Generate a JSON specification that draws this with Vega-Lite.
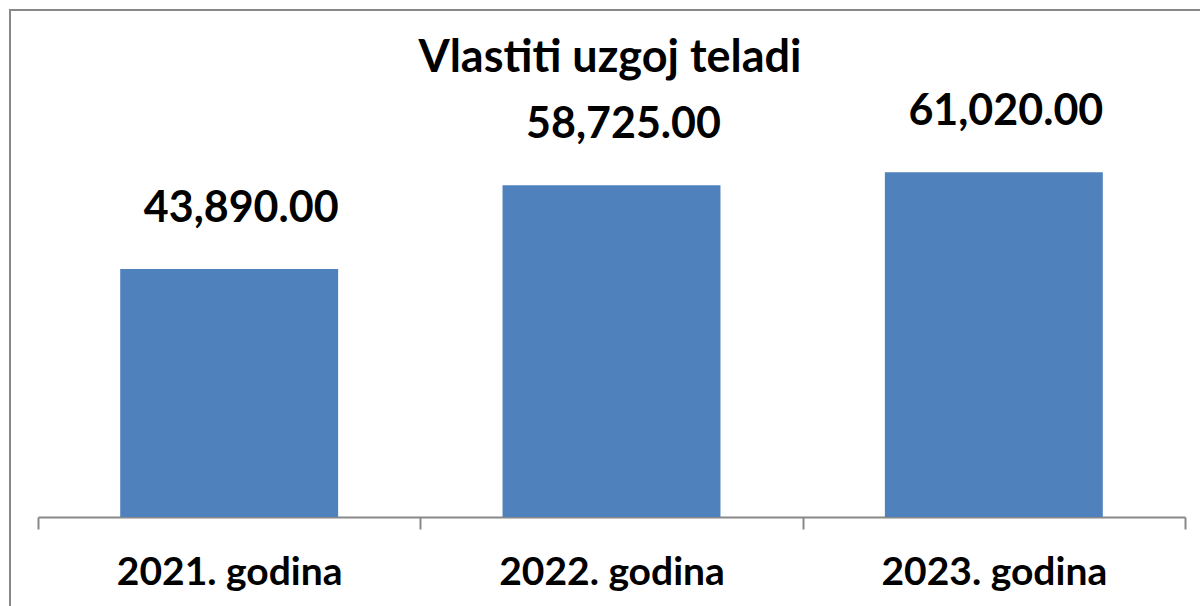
{
  "$schema": "https://vega.github.io/schema/vega-lite/v6.json",
  "autosize": "none",
  "width": 1200,
  "height": 600,
  "padding": {"left": 10, "top": 10, "right": 0, "bottom": 0},
  "background": "white",
  "config": {
    "view": {"stroke": "#888888", "strokeWidth": 2},
    "font": "Lato"
  },
  "title": {
    "text": "Vlastiti uzgoj teladi",
    "font": "Lato",
    "fontSize": 45,
    "fontWeight": "bold",
    "color": "#000000",
    "anchor": "middle",
    "baseline": "alphabetic",
    "offset": -66,
    "dy": 41
  },
  "data": {
    "values": [
      {"godina": "2021. godina", "vrijednost": 43890},
      {"godina": "2022. godina", "vrijednost": 58725},
      {"godina": "2023. godina", "vrijednost": 61020}
    ]
  },
  "encoding": {
    "x": {
      "field": "godina",
      "type": "nominal",
      "sort": null,
      "scale": {"range": [28, 1175], "paddingInner": 0, "paddingOuter": 0},
      "axis": {
        "title": null,
        "offset": -93,
        "tickBand": "extent",
        "tickSize": 12,
        "tickColor": "#888888",
        "tickWidth": 2,
        "domainColor": "#888888",
        "domainWidth": 2,
        "labelAngle": 0,
        "labelLimit": 0,
        "labelFont": "Lato",
        "labelFontSize": 39,
        "labelFontWeight": "bold",
        "labelColor": "#000000",
        "labelPadding": 24
      }
    },
    "y": {
      "field": "vrijednost",
      "type": "quantitative",
      "scale": {"domain": [0, 80000], "range": [507, 55], "nice": false},
      "axis": null
    }
  },
  "layer": [
    {
      "mark": {"type": "bar", "color": "#4F81BD", "width": {"band": 0.57}}
    },
    {
      "mark": {
        "type": "text",
        "font": "Lato",
        "fontSize": 43,
        "fontWeight": "bold",
        "color": "#000000",
        "baseline": "alphabetic",
        "align": "center",
        "dx": 12,
        "dy": -47
      },
      "encoding": {
        "text": {"field": "vrijednost", "type": "quantitative", "format": ",.2f"}
      }
    }
  ]
}
